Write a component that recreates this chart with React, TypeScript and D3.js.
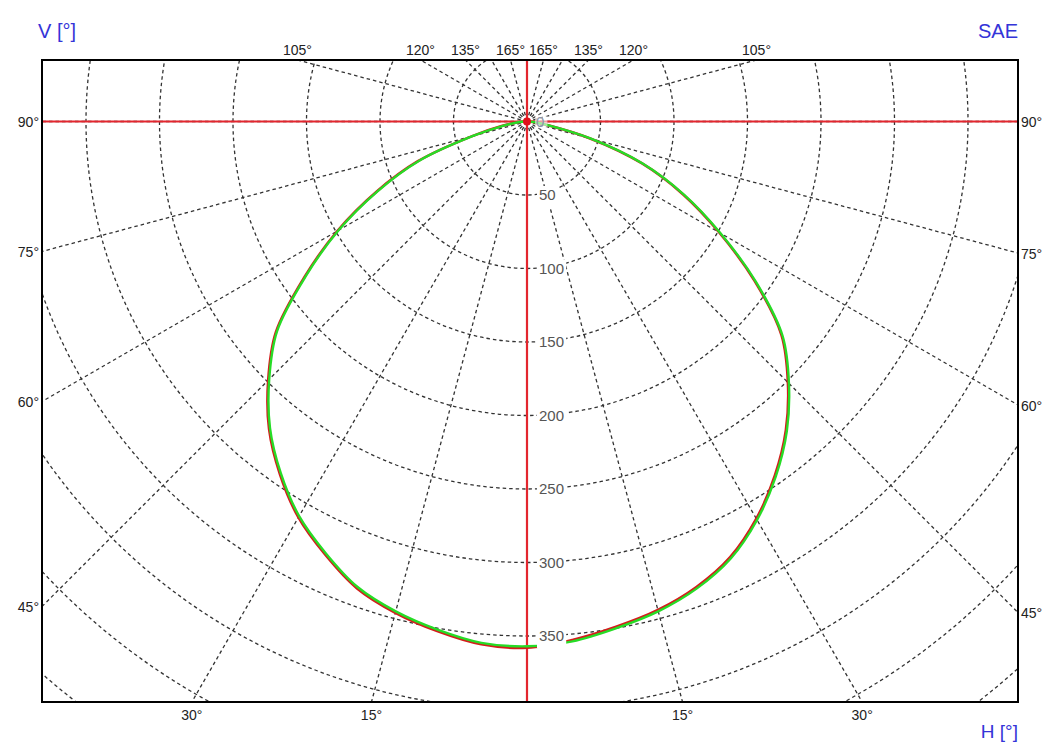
import React from "react";
import * as d3 from "d3";

// ---- data ----
const angles = [0, 5, 10, 15, 20, 25, 30, 35, 40, 45, 50, 55, 60, 65, 70, 75, 80, 85, 90];
const greenLeft = [357, 356, 351, 345, 337, 324, 310, 292, 272, 248, 222, 184, 148, 112, 78, 38, 16, 6, 0];
const redLeft = [358, 357, 352, 346, 338, 325, 311, 293, 273, 249, 223, 185, 149, 113, 79, 39, 17, 6, 0];
const greenRight = [357, 355, 350, 345, 338, 328, 313, 295, 275, 252, 227, 190, 152, 118, 84, 45, 15, 5, 0];
const redRight = [356, 354, 349, 344, 337, 327, 312, 294, 274, 251, 226, 189, 151, 117, 83, 44, 14, 5, 0];

const gridRings = [50, 100, 150, 200, 250, 300, 350, 400, 450, 500];
const ringLabels = [0, 50, 100, 150, 200, 250, 300, 350];
const spokeAngles = [0, 15, 30, 45, 60, 75, 90, 105, 120, 135, 150, 165, 180, 195, 210, 225, 240, 255, 270, 285, 300, 315, 330, 345];
const sideTicks = [90, 75, 60, 45];
const bottomTicks = [15, 30];
const topTicks = [105, 120, 135, 165];

// ---- layout ----
const W = 1048;
const H = 744;
const fx0 = 42, fy0 = 60, fx1 = 1018, fy1 = 702;
const cx = 527, cy = 121.5;
const FONT = "'Liberation Sans', Arial, sans-serif";
const BLUE = "#3434d8";

const r = d3.scaleLinear().domain([0, 350]).range([0, 514.5]);
const rad = (deg: number) => (deg * Math.PI) / 180;

function curvePoints(left: number[], right: number[]): [number, number][] {
  const pts: [number, number][] = [];
  for (let i = angles.length - 1; i >= 0; i--) pts.push([Math.PI + rad(angles[i]), r(left[i])]);
  for (let i = 1; i < angles.length; i++) pts.push([Math.PI - rad(angles[i]), r(right[i])]);
  return pts;
}

const radial = d3
  .lineRadial<[number, number]>()
  .angle((d) => d[0])
  .radius((d) => d[1])
  .curve(d3.curveCatmullRom.alpha(0.5));

export default function App() {
  const redPath = radial(curvePoints(redLeft, redRight)) || "";
  const greenPath = radial(curvePoints(greenLeft, greenRight)) || "";
  const dash = { stroke: "#333", strokeWidth: 1.3, strokeDasharray: "3.5 3", fill: "none" };

  return (
    <svg
      width={W}
      height={H}
      style={{ position: "absolute", left: 0, top: 0, display: "block", background: "#fff" }}
      fontFamily={FONT}
    >
      <defs>
        <clipPath id="frame">
          <rect x={fx0} y={fy0} width={fx1 - fx0} height={fy1 - fy0} />
        </clipPath>
      </defs>
      <rect x={0} y={0} width={W} height={H} fill="#fff" />

      <g clipPath="url(#frame)">
        {gridRings.map((v) => (
          <circle key={"c" + v} cx={cx} cy={cy} r={r(v)} {...dash} />
        ))}
        {spokeAngles.map((a) => (
          <line
            key={"s" + a}
            x1={cx}
            y1={cy}
            x2={cx + 1500 * Math.sin(rad(a))}
            y2={cy + 1500 * Math.cos(rad(a))}
            {...dash}
          />
        ))}
        <line x1={fx0} x2={fx1} y1={cy} y2={cy} stroke="#e3262e" strokeWidth={2.2} />
        <line x1={cx} x2={cx} y1={fy0} y2={fy1} stroke="#e3262e" strokeWidth={2.2} />
        <g transform={`translate(${cx},${cy})`}>
          <path d={redPath} fill="none" stroke="#d41c1c" strokeWidth={2.6} strokeLinejoin="round" />
          <path d={greenPath} fill="none" stroke="#26dc26" strokeWidth={2.4} strokeLinejoin="round" />
        </g>
        <circle cx={cx} cy={cy} r={4} fill="#e0101a" />
        {ringLabels.map((v) => {
          const txt = String(v);
          const w = txt.length * 8.4 + 4;
          const y = cy + r(v);
          return (
            <g key={"l" + v}>
              <rect
                x={v === 0 ? 535 : 537}
                y={v === 0 ? y - 7 : y - 9}
                width={w}
                height={v === 0 ? 14 : 21}
                fill="#fff"
                opacity={v === 0 ? 0.55 : 1}
              />
              <text
                x={v === 0 ? 536 : 539}
                y={y}
                dy="0.36em"
                fontSize={15}
                fill={v === 0 ? "#8a95a8" : "#555"}
              >
                {txt}
              </text>
            </g>
          );
        })}
      </g>

      <rect x={fx0} y={fy0} width={fx1 - fx0} height={fy1 - fy0} fill="none" stroke="#000" strokeWidth={2} />

      {sideTicks.map((a) => {
        const t = Math.cos(rad(a)) / Math.sin(rad(a));
        const yl = cy + (cx - fx0) * t;
        const yr = cy + (fx1 - cx) * t;
        return (
          <g key={"side" + a} fontSize={14} fill="#222">
            <text x={fx0 - 3} y={yl + 1} dy="0.35em" textAnchor="end">{a + "°"}</text>
            <text x={fx1 + 3} y={yr + 1} dy="0.35em">{a + "°"}</text>
          </g>
        );
      })}
      {bottomTicks.map((a) => {
        const dx = (fy1 - cy) * Math.tan(rad(a));
        return (
          <g key={"bot" + a} fontSize={14} fill="#222" textAnchor="middle">
            <text x={cx - dx} y={fy1 + 18}>{a + "°"}</text>
            <text x={cx + dx} y={fy1 + 18}>{a + "°"}</text>
          </g>
        );
      })}
      {topTicks.map((a) => {
        const dx = (cy - fy0) * Math.tan(rad(180 - a));
        return (
          <g key={"top" + a} fontSize={14} fill="#222" textAnchor="middle">
            <text x={cx - dx} y={fy0 - 5}>{a + "°"}</text>
            <text x={cx + dx} y={fy0 - 5}>{a + "°"}</text>
          </g>
        );
      })}

      <text x={38} y={38} fontSize={20} fill={BLUE}>V [°]</text>
      <text x={1018} y={38} fontSize={20} fill={BLUE} textAnchor="end">SAE</text>
      <text x={1018} y={738} fontSize={19} fill={BLUE} textAnchor="end">H [°]</text>
    </svg>
  );
}
